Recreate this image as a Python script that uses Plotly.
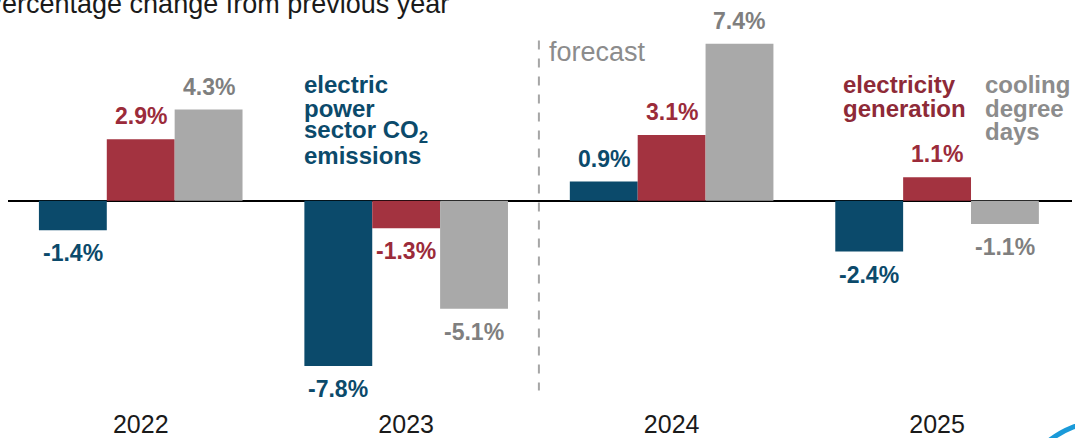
import plotly.graph_objects as go

years = ["2022", "2023", "2024", "2025"]
co2_emissions = [-1.4, -7.8, 0.9, -2.4]
electricity_generation = [2.9, -1.3, 3.1, 1.1]
cooling_degree_days = [4.3, -5.1, 7.4, -1.1]

BLUE = "#0b4a6b"
RED = "#a33340"
GRAY = "#a9a9a9"
FONT = "Liberation Sans, Arial, sans-serif"
BARGAP = 0.233

series = [
    (co2_emissions, BLUE, BLUE),
    (electricity_generation, RED, "#9b2b3a"),
    (cooling_degree_days, GRAY, "#7f7f7f"),
]

fig = go.Figure()
bar_w = (1 - BARGAP) / len(series)
for j, (vals, color, txtcolor) in enumerate(series):
    fig.add_trace(
        go.Bar(
            x=years,
            y=vals,
            marker=dict(color=color, line=dict(width=0)),
            hoverinfo="skip",
            showlegend=False,
        )
    )
    # value labels, a little further from the bar ends than plotly's default
    for i, v in enumerate(vals):
        fig.add_annotation(
            text="<b>%.1f%%</b>" % v, xref="x", yref="y",
            x=i + (j - 1) * bar_w, y=v,
            yanchor="bottom" if v > 0 else "top",
            yshift=8 if v > 0 else -8,
            showarrow=False,
            font=dict(family=FONT, size=23, color=txtcolor),
        )

# forecast divider
fig.add_shape(
    type="line", xref="x", yref="y", x0=1.5, x1=1.5, y0=7.55, y1=-8.95,
    line=dict(color="#a6a6a6", width=2, dash="dash"),
)
fig.add_annotation(
    text="forecast", xref="x", yref="y", x=1.53, y=7.0, xanchor="left",
    yanchor="middle", showarrow=False,
    font=dict(family=FONT, size=27, color="#8c8c8c"),
)

# series labels (one annotation per line to get the tight line spacing)
def label_lines(lines, x, color):
    ys = [5.5, 4.37, 3.24, 2.11]
    for line, y in zip(lines, ys):
        fig.add_annotation(
            text="<b>" + line + "</b>", xref="x", yref="y", x=x, y=y,
            xanchor="left", yanchor="middle", showarrow=False,
            font=dict(family=FONT, size=24, color=color),
        )

label_lines(["electric", "power", "sector CO<sub>2</sub>", "emissions"], 0.606, BLUE)
label_lines(["electricity", "generation"], 2.639, "#8e2a37")
label_lines(["cooling", "degree", "days"], 3.173, "#8c8c8c")

# chart title (cut off at the left edge in the source)
fig.add_annotation(
    text="Percentage change from previous year", xref="paper", yref="paper",
    x=0, y=1, xanchor="left", yanchor="middle", xshift=-26, yshift=26,
    showarrow=False, font=dict(family=FONT, size=27, color="#1a1a1a"),
)

# logo fragment in the bottom-right corner
fig.add_shape(
    type="circle", xref="paper", yref="paper",
    x0=0.9417, x1=1.1297, y0=-0.5946, y1=-0.054,
    line=dict(color="#1a9ad9", width=5),
)

fig.update_layout(
    width=1075,
    height=438,
    barmode="group",
    bargap=BARGAP,
    bargroupgap=0,
    plot_bgcolor="white",
    paper_bgcolor="white",
    margin=dict(l=8, r=3, t=30, b=38, autoexpand=False),
    xaxis=dict(
        showgrid=False, showline=False, ticks="", ticklabelstandoff=7,
        tickfont=dict(family=FONT, size=25, color="#1a1a1a"),
    ),
    yaxis=dict(
        range=[-9.4, 8.05], showgrid=False, showticklabels=False,
        zeroline=True, zerolinecolor="black", zerolinewidth=2,
    ),
)

fig.write_html(
    "out.html",
    config={"displayModeBar": False},
    post_script="document.body.style.margin = '0';",
)
